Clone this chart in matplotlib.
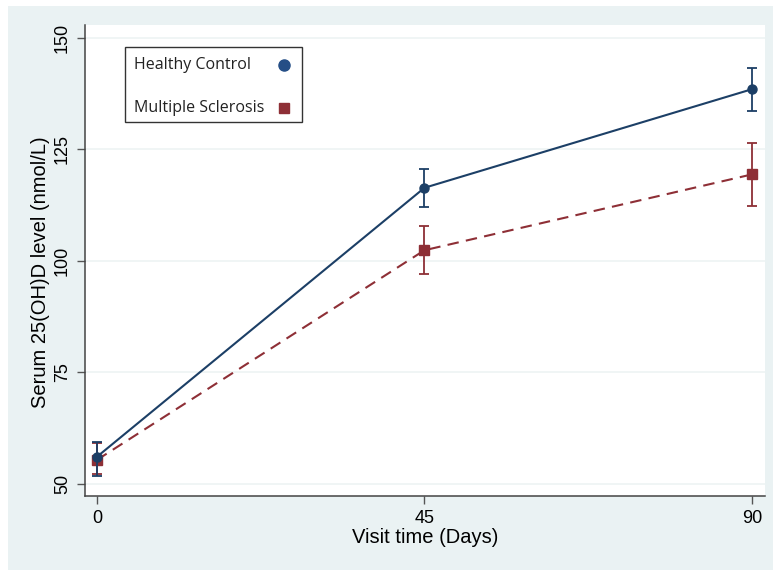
"""
Serum 25(OH)D level over visits: healthy control vs multiple sclerosis.
"""

import matplotlib.pyplot as plt
from matplotlib.lines import Line2D
from matplotlib.patches import Rectangle

# data
days = [0, 45, 90]
hc_mean = [56.1, 116.4, 138.5]
hc_low = [51.8, 112.1, 133.6]
hc_high = [59.5, 120.7, 143.2]
ms_mean = [55.4, 102.4, 119.4]
ms_low = [52.2, 97.1, 112.4]
ms_high = [59.2, 107.8, 126.5]

series_names = ['Healthy Control', 'Multiple Sclerosis']
y_ticks = [50, 75, 100, 125, 150]
x_ticks = [0, 45, 90]

NAVY = '#1c3f66'
MAROON = '#8e2f36'
BG = '#eaf2f3'
W, H = 773, 572

plt.rcParams['font.family'] = ['Liberation Sans', 'DejaVu Sans']

fig = plt.figure(figsize=(W / 100, H / 100), dpi=100)
fig.patches.append(Rectangle((8 / W, 2 / H), 1 - 8 / W, 1 - 8 / H,
                             transform=fig.transFigure, facecolor=BG,
                             edgecolor='none', zorder=-10))
ax = fig.add_axes([85 / W, 76 / H, 680 / W, 471 / H])
ax.set_facecolor('white')


def errs(mean, low, high):
    return [[m - l for m, l in zip(mean, low)], [h - m for m, h in zip(mean, high)]]


ax.errorbar(days, ms_mean, yerr=errs(ms_mean, ms_low, ms_high), color=MAROON,
            ls='--', dashes=(5.5, 3.5), lw=1.5, marker='s', ms=6.5, capsize=3.5,
            elinewidth=1.3, capthick=1.3, zorder=3)
ax.errorbar(days, hc_mean, yerr=errs(hc_mean, hc_low, hc_high), color=NAVY,
            ls='-', lw=1.5, marker='o', ms=6.5, capsize=3.5,
            elinewidth=1.3, capthick=1.3, zorder=4)

ax.set_xlim(-1.65, 91.8)
ax.set_ylim(47.3, 152.9)
ax.set_xticks(x_ticks)
ax.set_yticks(y_ticks)
ax.tick_params(axis='y', labelrotation=90, length=6, width=1, color='#555555',
               labelsize=13, pad=4)
ax.tick_params(axis='x', length=6, width=1, color='#555555', labelsize=13, pad=4)
for lab in ax.get_yticklabels():
    lab.set_va('center')
ax.grid(axis='y', color='#eef3f4', lw=1.2)
ax.set_axisbelow(True)
for side in ['top', 'right']:
    ax.spines[side].set_visible(False)
for side in ['left', 'bottom']:
    ax.spines[side].set_color('#444444')
    ax.spines[side].set_linewidth(1.1)

ax.set_xlabel('Visit time (Days)', fontsize=14.5, labelpad=1)
ax.set_ylabel('Serum 25(OH)D level (nmol/L)', fontsize=14.5)
ax.yaxis.set_label_coords(-0.051, 0.476)

# legend box: text left-aligned, marker on the right (Stata style)
fig.patches.append(Rectangle((125 / W, 1 - 122 / H), 177 / W, 75 / H,
                             transform=fig.transFigure, facecolor='white',
                             edgecolor='#333333', lw=1.0, zorder=5))
row_y = [65, 108]
row_marker = [('o', '#254e86', 8), ('s', MAROON, 7)]
for name, yy, (mk, col, size) in zip(series_names, row_y, row_marker):
    fig.text(134 / W, 1 - yy / H, name, ha='left', va='center',
             fontsize=11.5, family='Open Sans', color='#222222', zorder=6)
    fig.lines.append(Line2D([284 / W], [1 - yy / H], transform=fig.transFigure,
                            ls='none', marker=mk, ms=size, color=col, zorder=6))

plt.savefig('out.png', dpi=100)
